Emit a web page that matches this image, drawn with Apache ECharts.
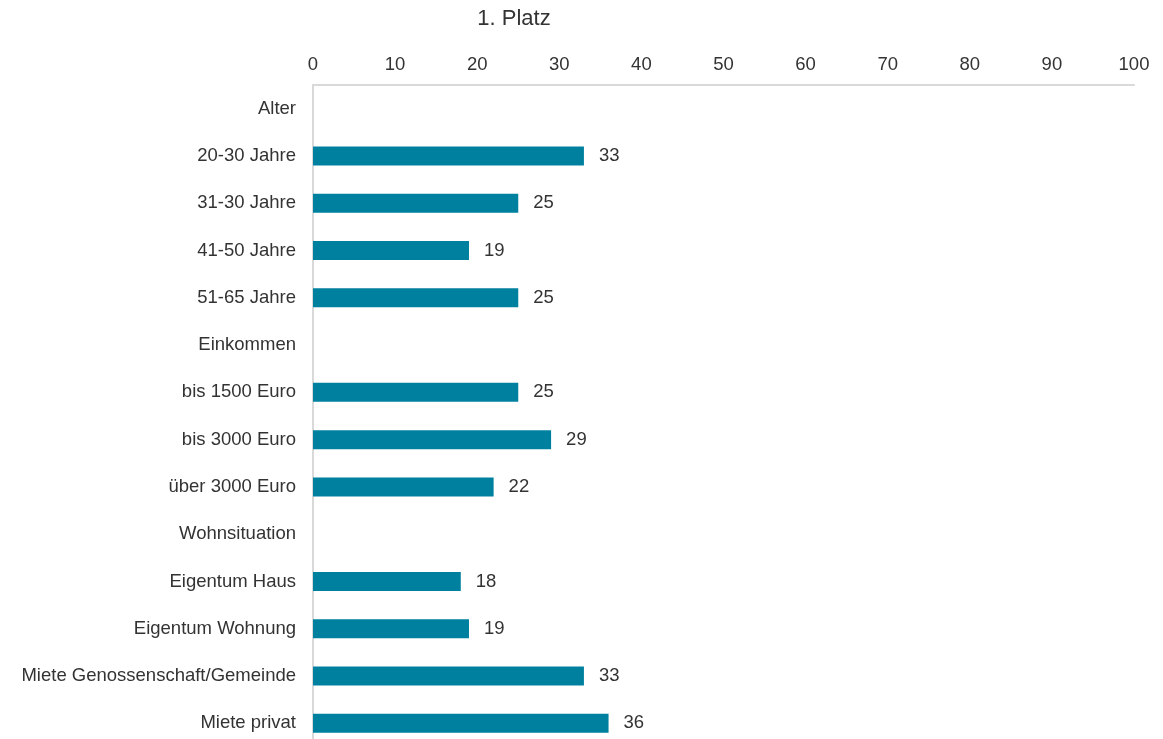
<!DOCTYPE html>
<html>
<head>
<meta charset="utf-8">
<script src="https://cdn.jsdelivr.net/npm/echarts@6/dist/echarts.min.js"></script>
<style>
  html, body { margin: 0; padding: 0; background: #fff; overflow: hidden; }
  /* the plot runs slightly past the lower edge of the window */
  #chart { width: 1163px; height: 747px; }
</style>
</head>
<body>
<div id="chart"></div>
<script>
// Rows of the bar chart, top to bottom; group headers carry no value
const categories = [
  'Alter', '20-30 Jahre', '31-30 Jahre', '41-50 Jahre', '51-65 Jahre',
  'Einkommen', 'bis 1500 Euro', 'bis 3000 Euro', 'über 3000 Euro',
  'Wohnsituation', 'Eigentum Haus', 'Eigentum Wohnung',
  'Miete Genossenschaft/Gemeinde', 'Miete privat'
];
const values = [null, 33, 25, 19, 25, null, 25, 29, 22, null, 18, 19, 33, 36];
const xTicks = [0, 10, 20, 30, 40, 50, 60, 70, 80, 90, 100];

const font = 'Liberation Sans, Arial, sans-serif';
const textColor = '#333333';

const chart = echarts.init(document.getElementById('chart'));
chart.setOption({
  animation: false,
  title: {
    text: '1. Platz',
    left: 509, top: 3,
    textAlign: 'center',
    textStyle: { fontFamily: font, fontSize: 22, fontWeight: 'normal', color: textColor }
  },
  grid: { left: 313, right: 29, top: 85, bottom: 0, containLabel: false },
  xAxis: {
    type: 'value',
    position: 'top',
    min: xTicks[0], max: xTicks[xTicks.length - 1], interval: 10,
    axisLine: { show: true, lineStyle: { color: '#d9d9d9', width: 2 } },
    axisTick: { show: false },
    splitLine: { show: false },
    axisLabel: { margin: 11, fontFamily: font, fontSize: 18.5, color: textColor }
  },
  yAxis: {
    type: 'category',
    inverse: true,
    data: categories,
    axisLine: { show: true, lineStyle: { color: '#d9d9d9', width: 2 } },
    axisTick: { show: false },
    axisLabel: { margin: 17, fontFamily: font, fontSize: 18.5, color: textColor }
  },
  series: [{
    type: 'bar',
    data: values,
    barWidth: 19,
    itemStyle: { color: '#00809f' },
    label: {
      show: true, position: 'right', distance: 15,
      fontFamily: font, fontSize: 18.5, color: textColor
    }
  }]
});
</script>
</body>
</html>
